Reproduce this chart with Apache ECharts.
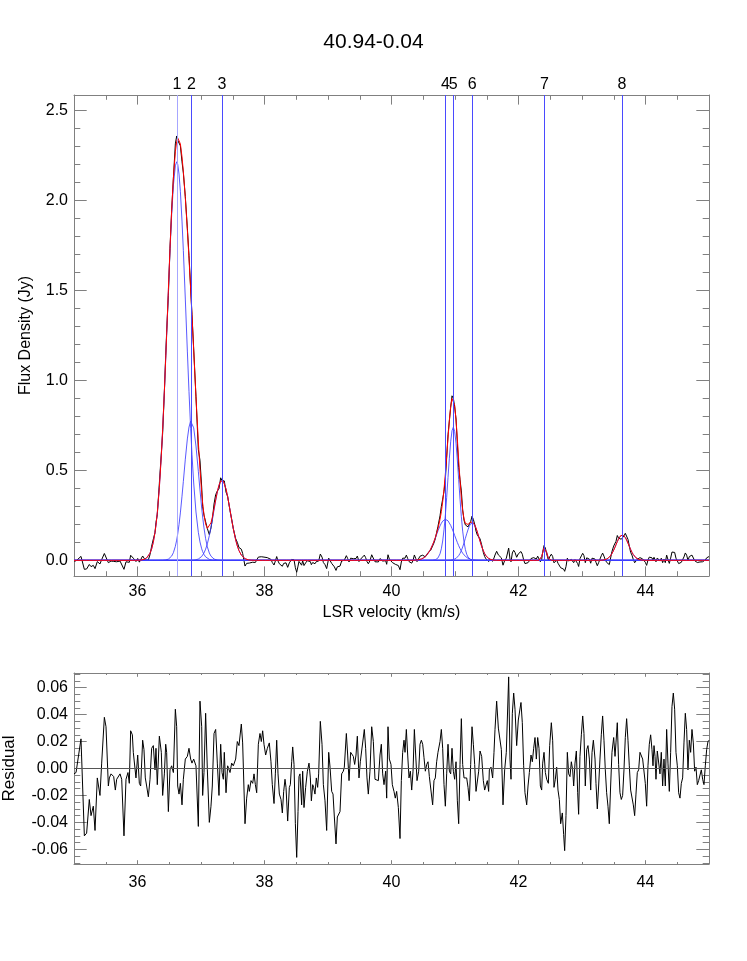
<!DOCTYPE html>
<html><head><meta charset="utf-8">
<script src="https://cdn.jsdelivr.net/npm/echarts@6/dist/echarts.min.js"></script>
<style>html,body{margin:0;padding:0;background:#fff}#c{width:747px;height:961px}</style>
</head><body><div id="c"></div>
<script>
const chartTitle = '40.94-0.04';
const xName = 'LSR velocity (km/s)';
const fluxName = 'Flux Density (Jy)';
const residName = 'Residual';

// channel velocities (km/s) and fit residuals (Jy)
const velocity = [35.000,35.032,35.110,35.163,35.199,35.241,35.268,35.304,35.331,35.367,35.394,35.409,35.436,35.478,35.504,35.541,35.557,35.583,35.604,35.625,35.651,35.672,35.698,35.725,35.751,35.787,35.819,35.850,35.871,35.892,35.919,35.934,35.955,35.976,36.003,36.029,36.050,36.081,36.102,36.123,36.144,36.171,36.197,36.223,36.249,36.276,36.291,36.312,36.344,36.375,36.396,36.423,36.444,36.459,36.486,36.512,36.538,36.565,36.596,36.617,36.633,36.654,36.675,36.701,36.722,36.753,36.785,36.811,36.837,36.858,36.885,36.921,36.958,36.984,37.011,37.026,37.047,37.073,37.100,37.131,37.157,37.178,37.205,37.231,37.257,37.283,37.310,37.331,37.352,37.367,37.394,37.420,37.457,37.483,37.509,37.546,37.572,37.598,37.635,37.656,37.693,37.719,37.745,37.761,37.788,37.814,37.835,37.856,37.877,37.903,37.929,37.950,37.971,37.992,38.018,38.045,38.076,38.102,38.123,38.150,38.171,38.192,38.213,38.234,38.260,38.281,38.302,38.323,38.339,38.365,38.391,38.407,38.428,38.444,38.465,38.486,38.507,38.528,38.543,38.559,38.585,38.601,38.622,38.648,38.675,38.701,38.722,38.738,38.759,38.774,38.795,38.816,38.837,38.853,38.879,38.906,38.927,38.953,38.979,39.011,39.032,39.058,39.079,39.100,39.126,39.147,39.168,39.189,39.215,39.241,39.257,39.289,39.310,39.331,39.357,39.378,39.399,39.420,39.441,39.462,39.488,39.509,39.530,39.572,39.593,39.614,39.635,39.661,39.688,39.714,39.740,39.766,39.793,39.819,39.840,39.861,39.882,39.908,39.924,39.945,39.966,39.992,40.013,40.039,40.060,40.081,40.108,40.134,40.155,40.176,40.197,40.213,40.234,40.255,40.276,40.297,40.318,40.339,40.360,40.381,40.402,40.428,40.449,40.470,40.491,40.512,40.533,40.554,40.575,40.596,40.617,40.648,40.669,40.690,40.711,40.732,40.764,40.785,40.806,40.827,40.848,40.869,40.890,40.911,40.932,40.953,40.974,40.995,41.016,41.037,41.058,41.079,41.100,41.121,41.142,41.163,41.184,41.205,41.226,41.247,41.268,41.289,41.310,41.331,41.352,41.373,41.394,41.420,41.446,41.467,41.488,41.509,41.530,41.541,41.567,41.593,41.614,41.630,41.656,41.683,41.709,41.730,41.756,41.782,41.808,41.845,41.866,41.882,41.903,41.924,41.945,41.971,41.997,42.018,42.039,42.060,42.081,42.102,42.129,42.150,42.171,42.197,42.218,42.239,42.260,42.281,42.302,42.323,42.344,42.365,42.381,42.402,42.423,42.444,42.470,42.491,42.517,42.538,42.559,42.580,42.601,42.622,42.643,42.664,42.690,42.711,42.727,42.748,42.769,42.790,42.811,42.832,42.853,42.869,42.890,42.911,42.932,42.947,42.968,42.990,43.011,43.031,43.052,43.074,43.094,43.116,43.137,43.158,43.179,43.205,43.220,43.241,43.262,43.283,43.304,43.325,43.346,43.367,43.388,43.409,43.430,43.451,43.472,43.499,43.520,43.535,43.556,43.577,43.598,43.619,43.640,43.661,43.682,43.703,43.724,43.745,43.766,43.787,43.808,43.829,43.850,43.871,43.892,43.913,43.934,43.955,43.976,43.997,44.018,44.039,44.060,44.081,44.102,44.118,44.134,44.150,44.165,44.186,44.207,44.228,44.249,44.270,44.291,44.312,44.333,44.354,44.375,44.396,44.417,44.438,44.459,44.480,44.501,44.522,44.543,44.564,44.585,44.606,44.627,44.648,44.669,44.690,44.711,44.732,44.753,44.774,44.795,44.816,44.837,44.858,44.879,44.900,44.921,44.942,44.963,44.984,45.000];
const residual = [-0.004,-0.003,0.022,-0.050,-0.048,-0.023,-0.035,-0.028,-0.046,-0.007,-0.006,-0.020,0.004,0.038,0.031,-0.013,-0.007,-0.004,-0.003,-0.006,-0.016,-0.008,-0.007,-0.004,-0.008,-0.050,-0.008,-0.003,-0.011,0.028,0.025,0.012,0.012,-0.007,0.010,-0.011,-0.013,0.021,0.014,-0.007,-0.013,-0.021,-0.008,0.015,0.017,-0.001,0.015,-0.012,0.024,0.012,-0.020,-0.004,0.018,0.012,-0.032,-0.001,0.002,-0.003,0.044,0.031,-0.013,-0.019,-0.011,-0.027,-0.008,0.007,0.009,0.015,0.007,0.004,0.007,0.002,-0.043,0.050,0.031,-0.020,-0.003,0.041,-0.001,-0.040,-0.028,-0.013,0.026,0.029,0.004,-0.020,0.018,-0.003,-0.008,0.012,-0.018,0.002,-0.003,0.004,0.002,0.007,0.020,0.017,0.033,0.019,-0.041,-0.022,-0.012,-0.017,-0.009,-0.011,-0.004,-0.012,-0.018,0.018,0.026,0.020,0.028,0.018,0.010,0.015,0.019,0.005,-0.012,-0.026,-0.004,0.021,-0.004,-0.019,-0.023,-0.033,-0.017,-0.008,-0.014,-0.039,-0.014,-0.012,0.005,0.016,0.003,-0.041,-0.066,-0.032,-0.006,-0.004,-0.027,-0.002,-0.029,-0.014,-0.002,0.004,-0.007,-0.024,-0.012,-0.014,-0.019,-0.007,-0.014,-0.004,0.035,0.018,-0.012,-0.024,-0.046,0.012,0.001,-0.017,-0.019,-0.036,-0.056,-0.036,-0.036,-0.032,-0.004,-0.002,0.001,0.026,0.010,-0.009,0.012,0.012,0.009,0.003,0.010,0.024,-0.007,0.005,0.013,0.029,0.015,-0.007,-0.019,-0.002,0.031,0.020,-0.008,-0.007,-0.009,0.010,0.018,-0.004,-0.012,-0.002,-0.022,0.031,0.007,0.003,-0.012,-0.017,-0.022,-0.017,-0.029,-0.052,-0.009,0.012,0.021,0.012,0.029,0.010,-0.007,-0.002,-0.016,-0.002,0.029,0.010,-0.009,-0.002,0.018,0.021,0.018,0.008,-0.002,0.003,0.005,-0.006,-0.007,-0.027,-0.009,-0.007,0.005,0.012,0.020,0.029,0.015,-0.012,-0.028,-0.004,0.018,-0.002,-0.004,0.015,-0.002,-0.008,0.005,-0.024,-0.041,0.003,0.037,0.003,-0.007,-0.008,-0.007,-0.014,-0.024,0.003,0.031,0.018,0.003,-0.017,-0.017,-0.002,0.013,0.009,-0.009,-0.016,-0.017,-0.009,-0.017,-0.001,0.001,-0.007,0.012,0.029,0.050,0.030,0.031,0.014,-0.027,-0.001,0.012,0.068,0.007,-0.008,0.041,0.056,0.044,0.017,0.036,0.037,0.049,0.034,0.002,-0.018,-0.027,-0.013,-0.003,0.010,0.005,0.015,0.023,0.007,0.023,0.015,-0.013,-0.016,0.004,0.012,-0.003,-0.008,-0.011,0.017,0.034,0.021,-0.014,-0.008,0.001,-0.016,-0.023,-0.041,-0.033,-0.049,-0.061,-0.035,0.012,-0.004,-0.006,0.005,-0.001,-0.013,0.004,0.013,-0.018,-0.034,0.009,0.025,0.039,0.026,-0.013,0.014,0.017,0.007,-0.016,0.012,0.021,0.007,-0.011,-0.030,-0.013,0.007,0.025,0.039,0.021,-0.001,-0.018,-0.028,-0.041,-0.013,0.012,0.023,0.009,0.019,0.034,0.003,-0.018,-0.023,-0.020,-0.001,0.023,0.037,0.021,0.002,-0.016,-0.016,-0.027,-0.035,-0.019,-0.003,-0.001,0.012,0.012,0.007,0.007,-0.011,-0.028,0.002,0.018,0.025,0.014,0.002,0.017,0.009,-0.008,0.013,0.014,-0.004,0.012,-0.013,0.007,-0.013,0.029,0.004,-0.017,0.012,0.046,0.056,0.044,0.012,0.002,-0.018,-0.022,-0.011,-0.007,0.019,0.041,0.029,-0.001,0.021,0.012,0.029,0.019,-0.002,0.001,-0.012,-0.009,-0.009,-0.001,-0.008,-0.012,0.002,0.014,0.020,0.021];

// Gaussian components of the fit (labels, centres km/s, peaks Jy, sigmas km/s)
const compLabel  = ['1','2','3','4','5','6','7','8'];
const compCenter = [36.617,36.847,37.331,40.850,40.973,41.272,42.413,43.635];
const compAmp    = [2.214,0.776,0.446,0.228,0.740,0.209,0.075,0.142];
const compSigma  = [0.148,0.117,0.130,0.145,0.085,0.105,0.030,0.100];

const xMajorTicks = [36,38,40,42,44];
const xMinorTicks = [35,35.5,36,36.5,37,37.5,38,38.5,39,39.5,40,40.5,41,41.5,42,42.5,43,43.5,44,44.5,45];
const fluxMajorTicks = [0,0.5,1.0,1.5,2.0,2.5];
const fluxMinorTicks = [0,0.1,0.2,0.3,0.4,0.5,0.6,0.7,0.8,0.9,1.0,1.1,1.2,1.3,1.4,1.5,1.6,1.7,1.8,1.9,2.0,2.1,2.2,2.3,2.4,2.5];
const residMajorTicks = [-0.06,-0.04,-0.02,0,0.02,0.04,0.06];
const residMinorTicks = [-0.07,-0.065,-0.06,-0.055,-0.05,-0.045,-0.04,-0.035,-0.03,-0.025,-0.02,-0.015,-0.01,-0.005,0,0.005,0.01,0.015,0.02,0.025,0.03,0.035,0.04,0.045,0.05,0.055,0.06,0.065,0.07];

const X_MIN = 35, X_MAX = 45;
const F_MIN = -0.087, F_MAX = 2.585;
const R_MIN = -0.0709, R_MAX = 0.0709;

function gauss(k, v) {
  const d = v - compCenter[k];
  return compAmp[k] * Math.exp(-d * d / (2 * compSigma[k] * compSigma[k]));
}
function model(v) { let s = 0; for (let k = 0; k < compCenter.length; k++) s += gauss(k, v); return s; }

const FONT = 'Liberation Sans, Arial, Helvetica, sans-serif';
const FRAME = '#808080';

function mkAxis(o) {
  return Object.assign({
    type: 'value',
    axisLine: { show: o.line !== false, onZero: false, lineStyle: { color: FRAME, width: 1 } },
    axisTick: { show: true, inside: true, length: o.len, customValues: o.ticks, lineStyle: { color: FRAME, width: 1 } },
    axisLabel: o.labels ? { show: true, customValues: o.labels, formatter: o.fmt, color: '#000', fontSize: 16, fontFamily: FONT, margin: o.margin } : { show: false },
    splitLine: { show: false },
    minorTick: { show: false },
    minorSplitLine: { show: false },
    silent: true
  }, o.extra);
}

const xAxes = [
  mkAxis({ len: 9.6, ticks: xMajorTicks, labels: xMajorTicks, fmt: v => String(v), margin: 8,
    extra: { gridIndex: 0, position: 'bottom', min: X_MIN, max: X_MAX, name: xName, nameLocation: 'middle', nameGap: 27,
      nameTextStyle: { color: '#000', fontSize: 16, fontFamily: FONT } } }),
  mkAxis({ len: 4.8, ticks: xMinorTicks, line: false, extra: { gridIndex: 0, position: 'bottom', min: X_MIN, max: X_MAX } }),
  mkAxis({ len: 9.6, ticks: xMajorTicks, extra: { gridIndex: 0, position: 'top', min: X_MIN, max: X_MAX } }),
  mkAxis({ len: 4.8, ticks: xMinorTicks, line: false, extra: { gridIndex: 0, position: 'top', min: X_MIN, max: X_MAX } }),
  mkAxis({ len: 3.8, ticks: xMajorTicks, labels: xMajorTicks, fmt: v => String(v), margin: 11,
    extra: { gridIndex: 1, position: 'bottom', min: X_MIN, max: X_MAX } }),
  mkAxis({ len: 2, ticks: xMinorTicks, line: false, extra: { gridIndex: 1, position: 'bottom', min: X_MIN, max: X_MAX } }),
  mkAxis({ len: 3.8, ticks: xMajorTicks, extra: { gridIndex: 1, position: 'top', min: X_MIN, max: X_MAX } }),
  mkAxis({ len: 2, ticks: xMinorTicks, line: false, extra: { gridIndex: 1, position: 'top', min: X_MIN, max: X_MAX } })
];
const yAxes = [
  mkAxis({ len: 12.7, ticks: fluxMajorTicks, labels: fluxMajorTicks, fmt: v => v.toFixed(1), margin: 6,
    extra: { gridIndex: 0, position: 'left', min: F_MIN, max: F_MAX, name: fluxName, nameLocation: 'middle', nameGap: 40, nameRotate: 90,
      nameTextStyle: { color: '#000', fontSize: 16, fontFamily: FONT } } }),
  mkAxis({ len: 6.3, ticks: fluxMinorTicks, line: false, extra: { gridIndex: 0, position: 'left', min: F_MIN, max: F_MAX } }),
  mkAxis({ len: 12.7, ticks: fluxMajorTicks, extra: { gridIndex: 0, position: 'right', min: F_MIN, max: F_MAX } }),
  mkAxis({ len: 6.3, ticks: fluxMinorTicks, line: false, extra: { gridIndex: 0, position: 'right', min: F_MIN, max: F_MAX } }),
  mkAxis({ len: 12.7, ticks: residMajorTicks, labels: residMajorTicks, fmt: v => v.toFixed(2), margin: 6,
    extra: { gridIndex: 1, position: 'left', min: R_MIN, max: R_MAX, name: residName, nameLocation: 'middle', nameGap: 56, nameRotate: 90,
      nameTextStyle: { color: '#000', fontSize: 17, fontFamily: FONT } } }),
  mkAxis({ len: 6.3, ticks: residMinorTicks, line: false, extra: { gridIndex: 1, position: 'left', min: R_MIN, max: R_MAX } }),
  mkAxis({ len: 12.7, ticks: residMajorTicks, extra: { gridIndex: 1, position: 'right', min: R_MIN, max: R_MAX } }),
  mkAxis({ len: 6.3, ticks: residMinorTicks, line: false, extra: { gridIndex: 1, position: 'right', min: R_MIN, max: R_MAX } })
];

const series = [];
series.push({
  type: 'line', name: 'spectrum', xAxisIndex: 0, yAxisIndex: 0, showSymbol: false, z: 2,
  lineStyle: { color: '#000', width: 1 }, itemStyle: { color: '#000' },
  data: velocity.map((v, i) => [v, model(v) + residual[i]])
});
for (let k = 0; k < compCenter.length; k++) {
  series.push({
    type: 'line', name: 'comp' + compLabel[k], xAxisIndex: 0, yAxisIndex: 0, showSymbol: false, z: 3,
    lineStyle: { color: '#3c3cff', width: 1, opacity: 0.85 }, itemStyle: { color: '#3c3cff' },
    data: velocity.map(v => [v, gauss(k, v)])
  });
}
series.push({
  type: 'line', name: 'model', xAxisIndex: 0, yAxisIndex: 0, showSymbol: false, z: 4,
  lineStyle: { color: '#ff0000', width: 1 }, itemStyle: { color: '#ff0000' },
  data: velocity.map(v => [v, model(v)]),
  markLine: {
    silent: true, symbol: ['none', 'none'], animation: false,
    lineStyle: { type: 'solid', width: 1, color: '#4a4aff' },
    label: { show: true, position: 'end', formatter: '{b}', color: '#000', fontSize: 16, fontFamily: FONT, distance: 2 },
    data: compCenter.map((c, k) => ({ name: compLabel[k], xAxis: c,
      lineStyle: k === 0 ? { color: '#a6a6ff', width: 1, type: 'solid' } : { color: '#4a4aff', width: 1, type: 'solid' } }))
  }
});
series.push({
  type: 'line', name: 'residual', xAxisIndex: 4, yAxisIndex: 4, showSymbol: false, z: 3,
  lineStyle: { color: '#000', width: 1 }, itemStyle: { color: '#000' },
  data: velocity.map((v, i) => [v, residual[i]]),
  markLine: {
    silent: true, symbol: ['none', 'none'], animation: false,
    lineStyle: { type: 'solid', width: 1, color: '#555' },
    label: { show: false },
    data: [{ yAxis: 0 }]
  }
});

const chart = echarts.init(document.getElementById('c'), null, { renderer: 'canvas' });
chart.setOption({
  backgroundColor: '#fff',
  animation: false,
  title: { text: chartTitle, left: 'center', top: 27, textStyle: { color: '#000', fontSize: 21, fontWeight: 'normal', fontFamily: FONT } },
  grid: [
    { left: 74, right: 38, top: 95, height: 481, containLabel: false, outerBoundsMode: 'none' },
    { left: 74, right: 38, top: 673, height: 191, containLabel: false, outerBoundsMode: 'none' }
  ],
  xAxis: xAxes,
  yAxis: yAxes,
  tooltip: { show: false },
  series: series
});
</script>
</body></html>
